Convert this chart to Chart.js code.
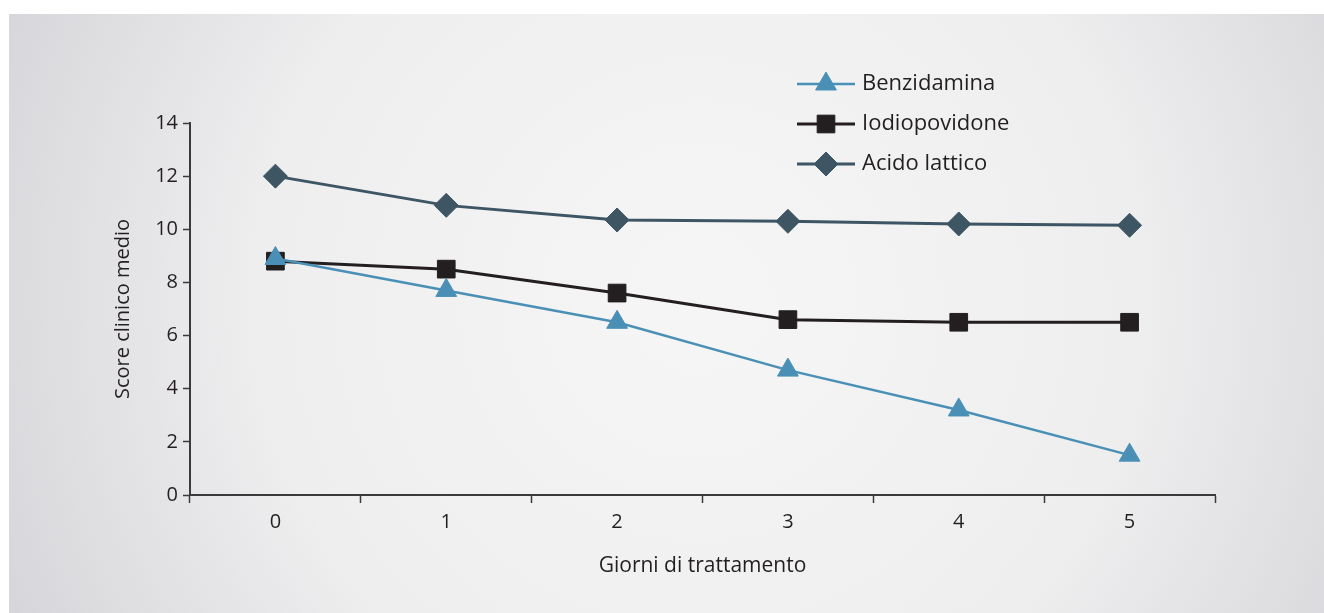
<!DOCTYPE html>
<html>
<head>
<meta charset="utf-8">
<script src="https://cdn.jsdelivr.net/npm/chart.js@4/dist/chart.umd.min.js"></script>
<style>
  html, body { margin: 0; padding: 0; background: #fff; }
  #wrap { width: 1324px; height: 613px; }
</style>
</head>
<body>
<div id="wrap"><canvas id="c"></canvas></div>
<script>
/* ── data ── */
const days = ['0', '1', '2', '3', '4', '5'];
const benzidamina = [8.9, 7.7, 6.5, 4.7, 3.2, 1.5];
const iodiopovidone = [8.8, 8.5, 7.6, 6.6, 6.5, 6.5];
const acidoLattico = [12.0, 10.9, 10.35, 10.3, 10.2, 10.15];
const yTicks = [0, 2, 4, 6, 8, 10, 12, 14];

const FONT = "'Open Sans', sans-serif";
const INK = '#231f20';

/* gray panel with soft radial shading */
const panelBg = {
  id: 'panelBg',
  beforeDraw(chart) {
    const { ctx, width, height } = chart;
    const x0 = 9, y0 = 14;
    ctx.save();
    ctx.fillStyle = '#fff';
    ctx.fillRect(0, 0, width, height);
    const g = ctx.createRadialGradient(700, 300, 50, 700, 300, 760);
    g.addColorStop(0, '#f5f5f5');
    g.addColorStop(0.55, '#eeeeef');
    g.addColorStop(1, '#d6d5d9');
    ctx.fillStyle = g;
    ctx.fillRect(x0, y0, width - x0, height - y0);
    ctx.restore();
  }
};

/* legend drawn as line + marker, like the original */
const lineLegend = {
  id: 'lineLegend',
  afterDraw(chart) {
    const { ctx } = chart;
    ctx.save();
    chart.data.datasets.forEach((ds, i) => {
      const y = 84 + i * 40;
      ctx.strokeStyle = ds.borderColor;
      ctx.lineWidth = ds.borderWidth;
      ctx.beginPath();
      ctx.moveTo(797, y);
      ctx.lineTo(855, y);
      ctx.stroke();
      ctx.fillStyle = ds.pointBackgroundColor;
      ctx.strokeStyle = ds.pointBackgroundColor;
      ctx.lineWidth = 1;
      Chart.helpers.drawPoint(ctx, {
        pointStyle: ds.pointStyle,
        radius: ds.pointRadius,
        borderWidth: 1
      }, 826, y);
      ctx.fillStyle = INK;
      ctx.font = '22px ' + FONT;
      ctx.textBaseline = 'middle';
      ctx.textAlign = 'left';
      ctx.fillText(ds.label, 862, y);
    });
    ctx.restore();
  }
};

new Chart(document.getElementById('c'), {
  type: 'line',
  data: {
    labels: days,
    datasets: [
      {
        label: 'Benzidamina',
        data: benzidamina,
        borderColor: '#4a90b6',
        borderWidth: 2.5,
        pointStyle: 'triangle',
        pointRadius: 12,
        pointBackgroundColor: '#4a90b6',
        pointBorderColor: '#4a90b6',
        pointBorderWidth: 1
      },
      {
        label: 'Iodiopovidone',
        data: iodiopovidone,
        borderColor: INK,
        borderWidth: 3,
        pointStyle: 'rect',
        pointRadius: 12.5,
        pointBackgroundColor: INK,
        pointBorderColor: INK,
        pointBorderWidth: 1
      },
      {
        label: 'Acido lattico',
        data: acidoLattico,
        borderColor: '#3e5564',
        borderWidth: 3,
        pointStyle: 'rectRot',
        pointRadius: 12,
        pointBackgroundColor: '#3e5564',
        pointBorderColor: '#3e5564',
        pointBorderWidth: 1
      }
    ]
  },
  options: {
    responsive: true,
    maintainAspectRatio: false,
    animation: false,
    layout: { padding: { left: 0, right: 109, top: 123, bottom: 0 } },
    plugins: {
      legend: { display: false },
      tooltip: { enabled: false }
    },
    scales: {
      x: {
        type: 'category',
        offset: true,
        afterFit: (s) => { s.height = 118; },
        grid: {
          offset: true,
          drawOnChartArea: false,
          drawTicks: true,
          tickLength: 8,
          tickColor: '#3a3a3a',
          tickWidth: 1.5
        },
        border: { color: '#3a3a3a', width: 2 },
        ticks: {
          color: INK,
          padding: 7,
          font: { family: FONT, size: 20 }
        },
        title: {
          display: true,
          text: 'Giorni di trattamento',
          color: INK,
          font: { family: FONT, size: 21 },
          padding: { top: 0, bottom: 34 }
        }
      },
      y: {
        min: 0,
        max: 14,
        afterFit: (s) => { s.width = 190; },
        afterBuildTicks: (s) => { s.ticks = yTicks.map(v => ({ value: v })); },
        grid: {
          drawOnChartArea: false,
          drawTicks: true,
          tickLength: 7,
          tickColor: '#3a3a3a',
          tickWidth: 1.5
        },
        border: { color: '#3a3a3a', width: 2 },
        ticks: {
          color: INK,
          padding: 5,
          font: { family: FONT, size: 20 }
        },
        title: {
          display: true,
          text: 'Score clinico medio',
          color: INK,
          font: { family: FONT, size: 20 },
          padding: { top: 111, bottom: 0 }
        }
      }
    }
  },
  plugins: [panelBg, lineLegend]
});
</script>
</body>
</html>
